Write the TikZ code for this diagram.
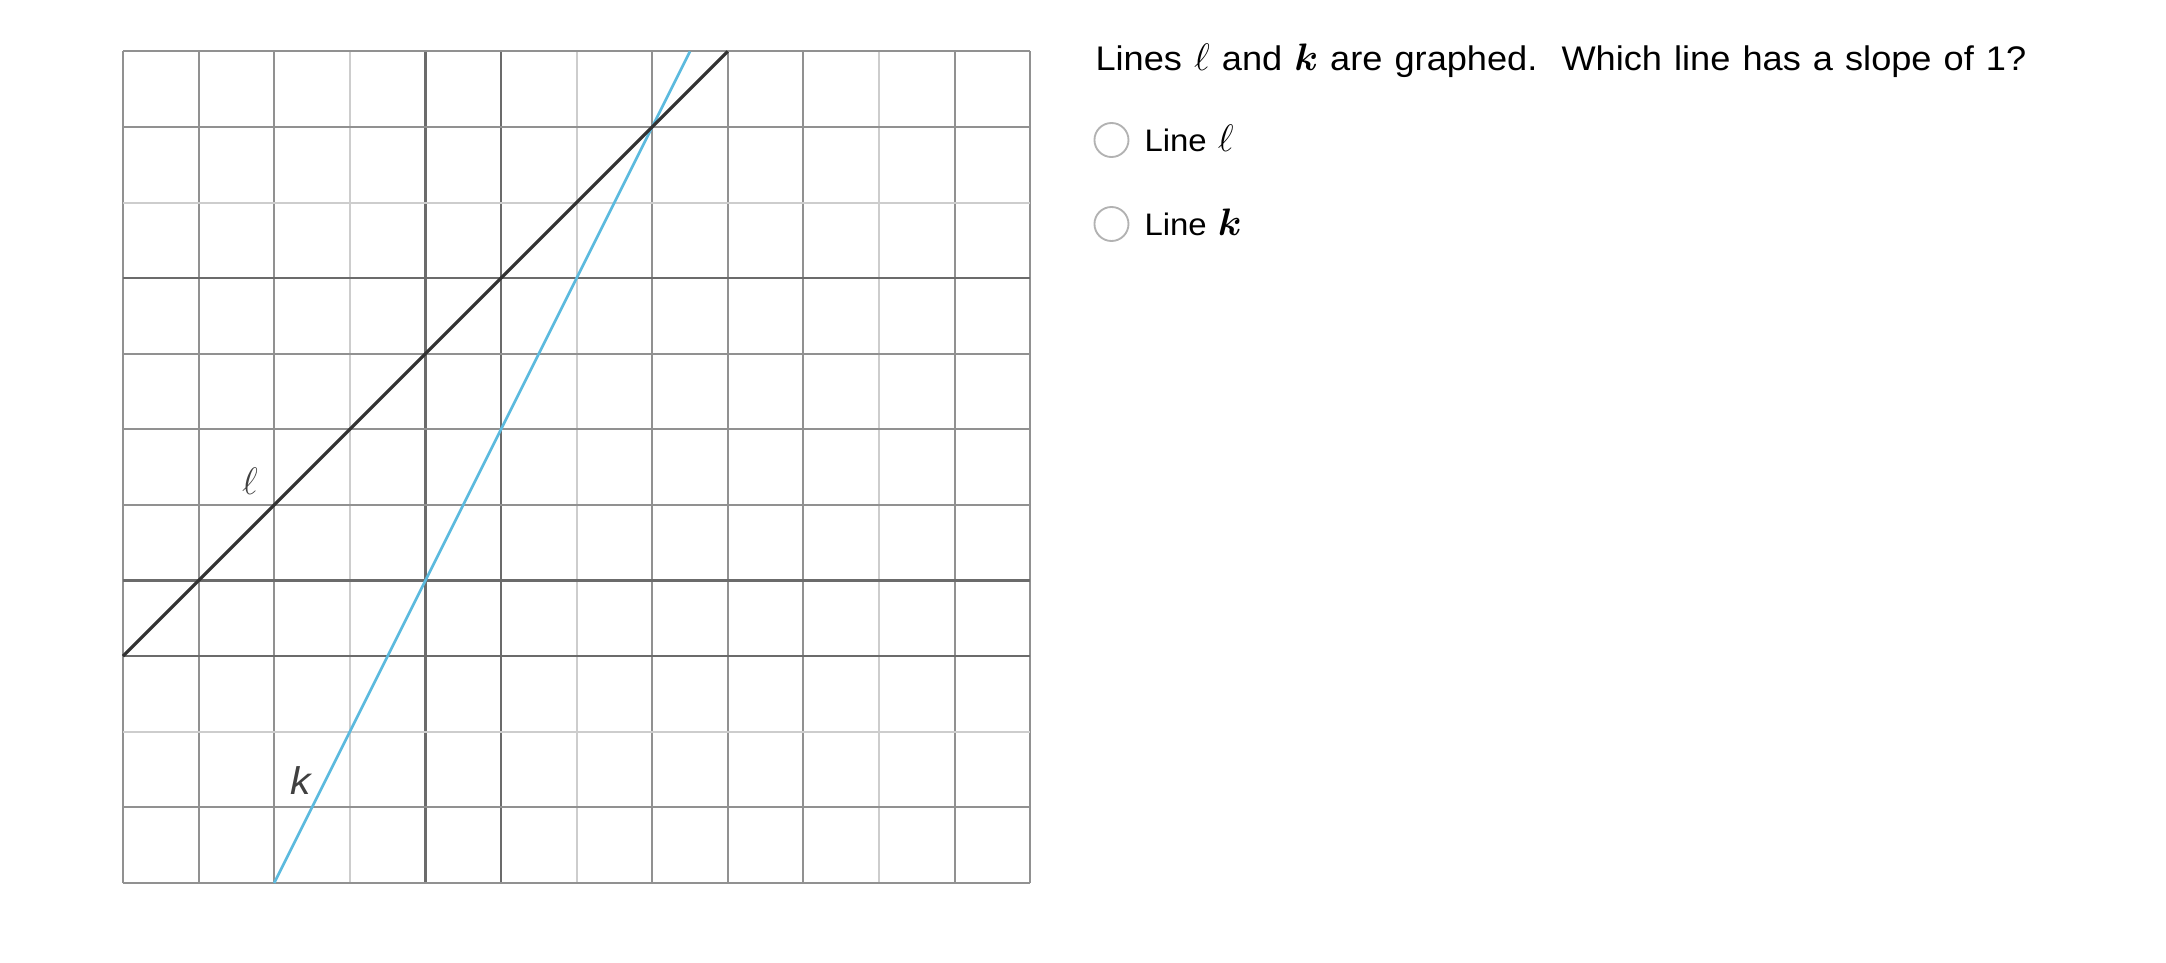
\documentclass[tikz,border=0pt]{standalone}
\usepackage{bm}
\usepackage{fontspec}
\setmainfont{Liberation Sans}[FakeStretch=1.06, WordSpace=1.2]
\usetikzlibrary{positioning}
\definecolor{kblue}{RGB}{92,186,222}
\definecolor{gridgray}{RGB}{145,145,145}
\definecolor{gridlight}{RGB}{205,205,205}
\newcommand{\mvar}[1]{{\fontsize{15}{15}\selectfont$#1$}}
\begin{document}
\begin{tikzpicture} [
        gridline/.style={draw=gridgray, line width=0.8pt},
        gridfaint/.style={draw=gridlight, line width=0.8pt},
        griddark/.style={draw=black!58, line width=0.9pt},
        linel/.style={draw=black!80, line width=1.2pt},
        linek/.style={draw=kblue, line width=1pt},
        radio/.style={draw=black!30, circle, line width=0.7pt, minimum size=0.45cm, inner sep=0pt},
        txt/.style={anchor=base west, inner sep=0pt, font=\fontsize{11.7}{15}\selectfont},
        ask/.style={anchor=base west, inner sep=0pt, font=\fontsize{12.85}{15}\selectfont},
        tag/.style={text=black!75, inner sep=0pt, font=\fontsize{14.5}{15}\selectfont\itshape} ]
    \useasboundingbox (-1.627,-1.045) rectangle (27.024,11.680);
    % grid
    \foreach \x/\s in {0/gridline,1/gridline,2/gridline,3/gridfaint,4/griddark,5/griddark,6/gridfaint,
                       7/gridline,8/gridline,9/gridline,10/gridfaint,11/gridline,12/gridline}
        \draw[\s] (\x,0) -- (\x,11);
    \foreach \y/\s in {0/gridline,1/gridline,2/gridfaint,3/griddark,4/griddark,5/gridline,6/gridline,
                       7/gridline,8/griddark,9/gridfaint,10/gridline,11/gridline}
        \draw[\s] (0,\y) -- (12,\y);
    % lines l and k
    \coordinate (l0) at (0,3);
    \coordinate (l1) at (8,11);
    \coordinate (k0) at (2,0);
    \coordinate (k1) at (7.5,11);
    \draw[linek] (k0) -- (k1);
    \draw[linel] (l0) -- (l1);
    \node[tag] (ltag) at (1.68,5.31) {$\ell$};
    \node[tag] (ktag) at (2.35,1.36) {k};
    % question
    \node[ask] (question) at (12.857,10.754) {Lines \mvar{\ell} and \mvar{\bm{k}} are graphed.\ \ Which line has a slope of 1?};
    \node[radio] (optl) at (13.075,9.828) {};
    \node[txt] (linel) at (13.505,9.673) {Line \mvar{\ell}};
    \node[radio] (optk) at (13.075,8.717) {};
    \node[txt] (linek) at (13.505,8.571) {Line \mvar{\bm{k}}};
\end{tikzpicture}
\end{document}
